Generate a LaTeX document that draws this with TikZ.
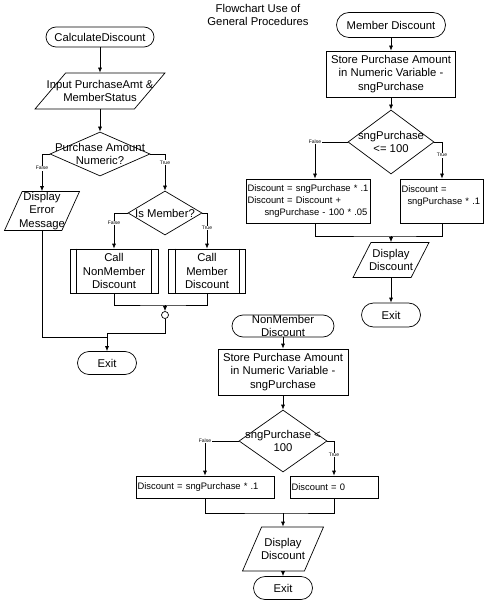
\documentclass[tikz,border=0pt]{standalone}
\usepackage{fontspec}
\setmainfont{Liberation Sans}
\usetikzlibrary{shapes.geometric,shapes.misc,arrows.meta}
\tikzset{
base/.style={draw, line width=0.7pt, inner sep=0pt, font=\fontsize{11.3}{13.5}\selectfont},
inside/.style={label={[align=center,font=\fontsize{11.3}{13.5}\selectfont]center:#1}},
terminal/.style={base, rounded rectangle},
io/.style={base, inner sep=2pt, trapezium, trapezium left angle=66, trapezium right angle=114, trapezium stretches=true},
decision/.style={base, diamond},
process/.style={base, rectangle, align=center},
subproc/.style={base, rectangle, align=center, minimum height=44pt},
codebox/.style={base, rectangle, align=left, inner xsep=1.5pt, font=\fontsize{9.4}{12}\selectfont},
flow/.style={-{Latex[length=5pt,width=4pt]}, line width=0.7pt},
link/.style={line width=0.7pt},
tag/.style={fill=white, inner sep=0.6pt, font=\fontsize{5}{6}\selectfont}
}

\begin{document}
\begin{tikzpicture}[x=1pt,y=-1pt]
\useasboundingbox (0,0) rectangle (487,601);
\node[align=center, font=\fontsize{11.3}{13.5}\selectfont] (title) at (258,15) {Flowchart Use of\\General Procedures};
% the calling procedure
\node[terminal, minimum width=108pt, minimum height=20pt, inside=CalculateDiscount] (calc) at (100,37) {};
\node[io, minimum width=130pt, minimum height=36pt, inside={Input PurchaseAmt \&\\MemberStatus}] (input) at (100,91) {};
\node[decision, minimum width=100pt, minimum height=44pt, inside={Purchase Amount\\Numeric?}] (numeric) at (100,154) {};
\node[io, minimum width=75pt, minimum height=39pt, inside={Display\\Error\\Message}] (errmsg) at (42,211) {};
\node[decision, minimum width=74pt, minimum height=44pt, inside={Is Member?}] (ismember) at (165,213) {};
\node[subproc, minimum width=88pt] (callnon) at (114,271) {Call\\NonMember\\Discount};
\node[subproc, minimum width=77pt] (callmem) at (207,271) {Call\\Member\\Discount};
\node[circle, draw, line width=0.7pt, minimum size=7pt, inner sep=0pt] (join) at (165,315) {};
\node[terminal, minimum width=59pt, minimum height=23pt, inside=Exit] (exit1) at (107,363) {};
% member procedure
\node[terminal, minimum width=109pt, minimum height=25pt, inside={Member Discount}] (memd) at (391,25) {};
\node[process, minimum width=129pt, minimum height=46pt] (store1) at (391,74) {Store Purchase Amount\\in Numeric Variable -\\sngPurchase};
\node[decision, minimum width=86pt, minimum height=64pt, inside={sngPurchase\\<= 100}] (limit1) at (391,142) {};
\node[codebox, text width=121pt, minimum height=44pt] (disc1a) at (308,201) {Discount = sngPurchase * .1\\Discount = Discount +\\\hspace*{17pt}sngPurchase - 100 * .05};
\node[codebox, text width=81pt, inner xsep=1pt, minimum height=44pt] (disc1b) at (442,201) {Discount =\\\mbox{\hspace*{6pt}sngPurchase * .1}\\~};
\node[io, minimum width=76pt, minimum height=35pt, inside={Display\\Discount}] (show1) at (391,260) {};
\node[terminal, minimum width=59pt, minimum height=24pt, inside=Exit] (exit2) at (391,315) {};
% nonmember procedure
\node[terminal, minimum width=102pt, minimum height=22pt, inside={NonMember\\Discount}] (nonmd) at (283,326) {};
\node[process, minimum width=130pt, minimum height=46pt] (store2) at (283,372) {Store Purchase Amount\\in Numeric Variable -\\sngPurchase};
\node[decision, minimum width=88pt, minimum height=62pt, inside={sngPurchase <\\100}] (limit2) at (283,441) {};
\node[codebox, text width=135pt, minimum height=22pt] (disc2a) at (205,487) {Discount = sngPurchase * .1};
\node[codebox, text width=85pt, minimum height=22pt] (disc2b) at (334,487) {Discount = 0};
\node[io, minimum width=81pt, minimum height=44pt, inside={Display\\Discount}] (show2) at (283,549) {};
\node[terminal, minimum width=59pt, minimum height=23pt, inside=Exit] (exit3) at (283,588) {};

\coordinate (meet) at (165,305);
\coordinate (gather) at (107,333);
\coordinate (meet1) at (391,236);
\coordinate (meet2) at (283,513);

% the arrows
\draw[flow] (calc) -- (input);
\draw[flow] (input) -- (numeric);
\draw[flow] (numeric.west) -| node[tag, pos=0.69] {False} (errmsg.north);
\draw[flow] (numeric.east) -| node[tag, pos=0.62] {True} (ismember.north);
\draw[flow] (ismember.west) -| node[tag, pos=0.64] {False} (callnon.north);
\draw[flow] (ismember.east) -| node[tag, pos=0.71] {True} (callmem.north);
\draw[link] (callnon.south) |- (meet) -| (callmem.south);
\draw[flow] (meet) -- (join);
\draw[link] (join.south) |- (gather);
\draw[link] (errmsg.south) |- ([yshift=-4pt]gather);
\draw[flow] (gather) -- (exit1);

\draw[flow] (memd) -- (store1);
\draw[flow] (store1) -- (limit1);
\draw[flow] (limit1.west) -| node[tag, pos=0.5] {False} ([xshift=7pt]disc1a.north);
\draw[flow] (limit1.east) -| node[tag, pos=0.68] {True} (disc1b.north);
\draw[link] ([xshift=7pt]disc1a.south) |- (meet1) -| (disc1b.south);
\draw[flow] (meet1) -- (show1);
\draw[flow] (show1) -- (exit2);

\draw[flow] (nonmd) -- (store2);
\draw[flow] (store2) -- (limit2);
\draw[flow] (limit2.west) -| node[tag, pos=0.5] {False} (disc2a.north);
\draw[flow] (limit2.east) -| node[tag, pos=0.7] {True} (disc2b.north);
\draw[link] (disc2a.south) |- (meet2) -| (disc2b.south);
\draw[flow] (meet2) -- (show2);
\draw[flow] (show2) -- (exit3);

% the double sides
\foreach \n in {callnon,callmem}
{
  \draw[link]
    ([xshift=7pt]\n.north west) -- ([xshift=7pt]\n.south west)
    ([xshift=-7pt]\n.north east) -- ([xshift=-7pt]\n.south east);
}
\end{tikzpicture}
\end{document}
